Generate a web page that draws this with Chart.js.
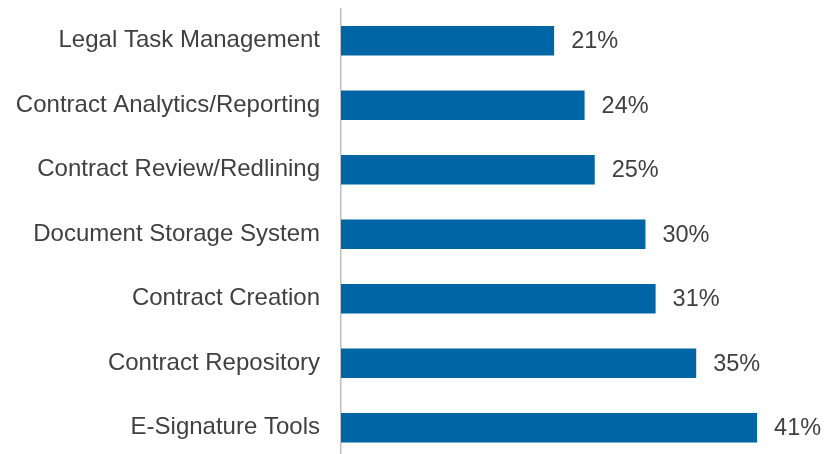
<!DOCTYPE html>
<html>
<head>
<meta charset="utf-8">
<script src="https://cdn.jsdelivr.net/npm/chart.js@4/dist/chart.umd.min.js"></script>
<style>
  html, body { margin: 0; padding: 0; background: #fff; overflow: hidden; }
  canvas { display: block; }
</style>
</head>
<body>
<canvas id="c" width="826" height="461"></canvas>
<script>
const categories = [
  "Legal Task Management",
  "Contract Analytics/Reporting",
  "Contract Review/Redlining",
  "Document Storage System",
  "Contract Creation",
  "Contract Repository",
  "E-Signature Tools"
];
const shares = [21, 24, 25, 30, 31, 35, 41];

// Percentage labels placed just past the end of each bar
const valueLabels = {
  id: 'valueLabels',
  afterDatasetsDraw(chart) {
    const ctx = chart.ctx;
    const meta = chart.getDatasetMeta(0);
    ctx.save();
    ctx.font = '23.5px "Liberation Sans", Arial, sans-serif';
    ctx.fillStyle = '#404040';
    ctx.textAlign = 'left';
    ctx.textBaseline = 'middle';
    meta.data.forEach((bar, i) => {
      ctx.fillText(shares[i] + '%', bar.x + 17, bar.y + 1);
    });
    ctx.restore();
  }
};

new Chart(document.getElementById('c'), {
  type: 'bar',
  data: {
    labels: categories,
    datasets: [{
      data: shares,
      backgroundColor: '#0065A4',
      borderWidth: 0,
      categoryPercentage: 1,
      barPercentage: 0.458
    }]
  },
  options: {
    indexAxis: 'y',
    responsive: false,
    animation: false,
    layout: { autoPadding: false, padding: { top: 8.5, right: 8, bottom: 1, left: 0 } },
    plugins: { legend: { display: false }, tooltip: { enabled: false } },
    scales: {
      x: {
        display: false,
        min: 0,
        max: 47
      },
      y: {
        afterFit(axis) {
          axis.width = 341;
          axis.paddingTop = 0;
          axis.paddingBottom = 0;
        },
        grid: { display: false, drawTicks: false },
        border: { display: true, color: '#c0c0c0', width: 1.5 },
        ticks: {
          padding: 21,
          color: '#404040',
          font: { family: '"Liberation Sans", Arial, sans-serif', size: 24 }
        }
      }
    }
  },
  plugins: [valueLabels]
});
</script>
</body>
</html>
